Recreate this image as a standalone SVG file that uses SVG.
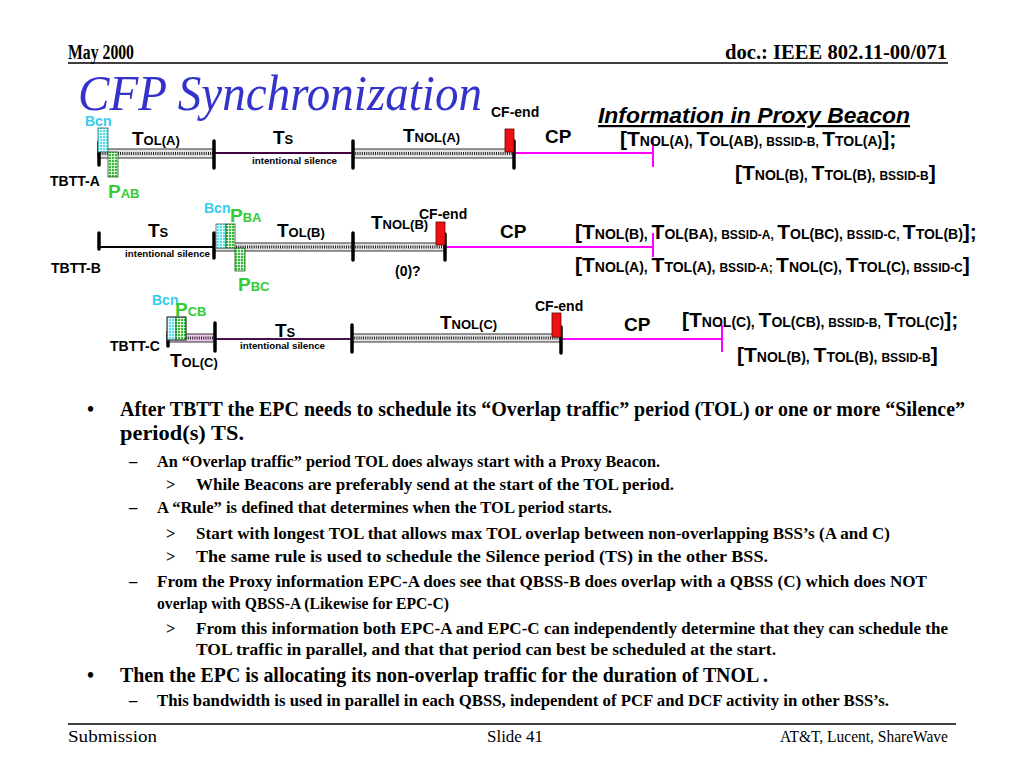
<svg xmlns="http://www.w3.org/2000/svg" width="1024" height="768" viewBox="0 0 1024 768">
<defs>
<style>
.l{font-family:"Liberation Sans",Arial,sans-serif;font-weight:bold;fill:#000}
.b{font-size:19px}.s{font-size:13px}
.B{font-size:21px}.S{font-size:14px}.x{font-size:12px}
.sm{font-size:14px}
.tiny{font-size:9.7px}
.cy{fill:#33ccee}.gr{fill:#33cc33}
.tm{font-family:"Liberation Serif","Times New Roman",serif;font-weight:bold;fill:#000}
.t1{font-size:20px}.t2{font-size:16.5px}
.ft{font-family:"Liberation Serif","Times New Roman",serif;font-size:17px;fill:#000}
.bar{fill:#e4e4e4;stroke:#333;stroke-width:1}
.dots{stroke:#222;stroke-width:3;stroke-dasharray:1 1.2}
.tick{stroke:#000;stroke-width:3.5;stroke-linecap:round}
.mtick{stroke:#ff00ff;stroke-width:2}
.cp{stroke:#ff00ff;stroke-width:2}
.ts{stroke:#400040;stroke-width:2}
.red{fill:#ee1111;stroke:#600;stroke-width:0.8}
.cbox{fill:url(#cyanGrid);stroke:#2a6a70;stroke-width:0.8}
.gbox{fill:url(#greenGrid);stroke:#1a5a1a;stroke-width:0.8}
</style>
<pattern id="cyanGrid" width="3" height="3" patternUnits="userSpaceOnUse"><rect width="3" height="3" fill="#55dde8"/><path d="M0 0.5H3M0.5 0V3" stroke="#ffffff" stroke-width="0.8"/></pattern>
<pattern id="greenGrid" width="3" height="3" patternUnits="userSpaceOnUse"><rect width="3" height="3" fill="#33bb33"/><path d="M0 0.5H3M0.5 0V3" stroke="#ffffff" stroke-width="0.8"/></pattern>
</defs>
<rect width="1024" height="768" fill="#ffffff"/>

<g id="header">
<text class="tm" x="68" y="59" font-size="20" textLength="66" lengthAdjust="spacingAndGlyphs">May 2000</text>
<text class="tm" x="947" y="59" font-size="20" text-anchor="end" textLength="222" lengthAdjust="spacingAndGlyphs">doc.: IEEE 802.11-00/071</text>
<line x1="68" y1="63" x2="948" y2="63" stroke="#000" stroke-width="1.5"/>
<text x="78" y="110" font-family="Liberation Serif,'Times New Roman',serif" font-style="italic" font-size="50" fill="#3333cc" textLength="404" lengthAdjust="spacingAndGlyphs">CFP Synchronization</text>
</g>

<g id="connectors">
<rect class="bar" x="98" y="149" width="116" height="9"/><line class="dots" x1="98" y1="153.5" x2="214" y2="153.5"/>
<line class="ts" x1="214" y1="153" x2="353" y2="153"/>
<rect class="bar" x="353" y="149" width="161" height="9"/><line class="dots" x1="353" y1="153.5" x2="514" y2="153.5"/>
<line class="cp" x1="514" y1="153" x2="653" y2="153"/>
<line class="tick" x1="99" y1="142" x2="99" y2="165"/>
<line class="tick" x1="214" y1="141" x2="214" y2="168"/>
<line class="tick" x1="353" y1="141" x2="353" y2="168"/>
<line class="tick" x1="514" y1="141" x2="514" y2="168"/>
<line class="mtick" x1="653" y1="137" x2="653" y2="167"/>
<line x1="99" y1="247" x2="214" y2="247" stroke="#000" stroke-width="2"/>
<rect class="bar" x="214" y="243" width="139" height="8"/><line class="dots" x1="214" y1="247" x2="353" y2="247"/>
<rect class="bar" x="353" y="243" width="92" height="8"/><line class="dots" x1="353" y1="247" x2="445" y2="247"/>
<line class="cp" x1="445" y1="247" x2="653" y2="247"/>
<line class="tick" x1="99" y1="233" x2="99" y2="249"/>
<line class="tick" x1="214" y1="233" x2="214" y2="258"/>
<line class="tick" x1="353" y1="233" x2="353" y2="260"/>
<line class="tick" x1="445" y1="234" x2="445" y2="260"/>
<line class="mtick" x1="653" y1="233" x2="653" y2="257"/>
<rect class="bar" x="168" y="334" width="47" height="8" style="fill:#eecbee"/><line class="dots" x1="168" y1="338" x2="215" y2="338"/>
<line class="ts" x1="215" y1="339" x2="352" y2="339" style="stroke:#4b1050"/>
<rect class="bar" x="352" y="334" width="209" height="8"/><line class="dots" x1="352" y1="338" x2="561" y2="338"/>
<line class="cp" x1="561" y1="339" x2="722" y2="339"/>
<line class="tick" x1="168" y1="332" x2="168" y2="346"/>
<line class="tick" x1="215" y1="323" x2="215" y2="351"/>
<line class="tick" x1="352" y1="325" x2="352" y2="352"/>
<line class="tick" x1="561" y1="327" x2="561" y2="353"/>
<line class="mtick" x1="722" y1="325" x2="722" y2="352"/>
</g>

<g id="timeline-a">
<rect class="cbox" x="98" y="128" width="10" height="24"/>
<rect class="gbox" x="108" y="152" width="10" height="25"/>
<rect class="red" x="505" y="129" width="9" height="23"/>
<text class="l sm cy" x="85" y="126">Bcn</text>
<text class="l" x="132" y="145"><tspan class="b">T</tspan><tspan class="s">OL(A)</tspan></text>
<text class="l" x="273" y="144"><tspan class="b">T</tspan><tspan class="s">S</tspan></text>
<text class="l tiny" x="252" y="164" textLength="85" lengthAdjust="spacingAndGlyphs">intentional silence</text>
<text class="l" x="403" y="142"><tspan class="b">T</tspan><tspan class="s">NOL(A)</tspan></text>
<text class="l sm" x="491" y="117">CF-end</text>
<text class="l b" x="545" y="143">CP</text>
<text class="l sm" x="50" y="186">TBTT-A</text>
<text class="l gr" x="108" y="198"><tspan class="b">P</tspan><tspan class="s">AB</tspan></text>
</g>

<g id="timeline-b">
<rect class="cbox" x="216" y="224" width="10" height="24"/>
<rect class="gbox" x="226" y="224" width="9" height="24"/>
<rect class="gbox" x="235" y="248" width="10" height="23"/>
<rect class="red" x="436" y="222" width="9" height="23"/>
<text class="l" x="148" y="237"><tspan class="b">T</tspan><tspan class="s">S</tspan></text>
<text class="l tiny" x="125" y="257" textLength="85" lengthAdjust="spacingAndGlyphs">intentional silence</text>
<text class="l sm" x="51" y="273">TBTT-B</text>
<text class="l sm cy" x="204" y="213">Bcn</text>
<text class="l gr" x="230" y="222"><tspan class="b">P</tspan><tspan class="s">BA</tspan></text>
<text class="l gr" x="238" y="291"><tspan class="b">P</tspan><tspan class="s">BC</tspan></text>
<text class="l" x="277" y="237"><tspan class="b">T</tspan><tspan class="s">OL(B)</tspan></text>
<text class="l" x="371" y="229"><tspan class="b">T</tspan><tspan class="s">NOL(B)</tspan></text>
<text class="l sm" x="419" y="219">CF-end</text>
<text class="l b" x="500" y="238">CP</text>
<text class="l sm" x="395" y="276">(0)?</text>
</g>

<g id="timeline-c">
<rect class="cbox" x="167" y="317" width="9" height="23"/>
<rect class="gbox" x="176" y="317" width="10" height="23"/>
<rect x="167" y="317" width="19" height="23" fill="none" stroke="#333" stroke-width="0.8"/>
<rect class="red" x="552" y="313" width="9" height="24"/>
<text class="l sm" x="110" y="351">TBTT-C</text>
<text class="l" x="170" y="367"><tspan class="b">T</tspan><tspan class="s">OL(C)</tspan></text>
<text class="l sm cy" x="152" y="305">Bcn</text>
<text class="l gr" x="175" y="316"><tspan class="b">P</tspan><tspan class="s">CB</tspan></text>
<text class="l" x="275" y="337"><tspan class="b">T</tspan><tspan class="s">S</tspan></text>
<text class="l tiny" x="240" y="349" textLength="85" lengthAdjust="spacingAndGlyphs">intentional silence</text>
<text class="l" x="440" y="329"><tspan class="b">T</tspan><tspan class="s">NOL(C)</tspan></text>
<text class="l sm" x="535" y="311">CF-end</text>
<text class="l b" x="624" y="331">CP</text>
</g>

<g id="proxy-info">
<text x="598" y="123" font-family="Liberation Sans,Arial,sans-serif" font-weight="bold" font-style="italic" font-size="22" text-decoration="underline" fill="#000" textLength="312" lengthAdjust="spacingAndGlyphs">Information in Proxy Beacon</text>
<text class="l" x="620" y="146"><tspan class="B">[T</tspan><tspan class="S">NOL(A), </tspan><tspan class="B">T</tspan><tspan class="S">OL(AB), </tspan><tspan class="x">BSSID-B, </tspan><tspan class="B">T</tspan><tspan class="S">TOL(A)</tspan><tspan class="B">];</tspan></text>
<text class="l" x="735" y="180"><tspan class="B">[T</tspan><tspan class="S">NOL(B), </tspan><tspan class="B">T</tspan><tspan class="S">TOL(B), </tspan><tspan class="x">BSSID-B</tspan><tspan class="B">]</tspan></text>
<text class="l" x="575" y="239"><tspan class="B">[T</tspan><tspan class="S">NOL(B), </tspan><tspan class="B">T</tspan><tspan class="S">OL(BA), </tspan><tspan class="x">BSSID-A, </tspan><tspan class="B">T</tspan><tspan class="S">OL(BC), </tspan><tspan class="x">BSSID-C, </tspan><tspan class="B">T</tspan><tspan class="S">TOL(B)</tspan><tspan class="B">];</tspan></text>
<text class="l" x="575" y="272"><tspan class="B">[T</tspan><tspan class="S">NOL(A), </tspan><tspan class="B">T</tspan><tspan class="S">TOL(A), </tspan><tspan class="x">BSSID-A; </tspan><tspan class="B">T</tspan><tspan class="S">NOL(C), </tspan><tspan class="B">T</tspan><tspan class="S">TOL(C), </tspan><tspan class="x">BSSID-C</tspan><tspan class="B">]</tspan></text>
<text class="l" x="682" y="327"><tspan class="B">[T</tspan><tspan class="S">NOL(C), </tspan><tspan class="B">T</tspan><tspan class="S">OL(CB), </tspan><tspan class="x">BSSID-B, </tspan><tspan class="B">T</tspan><tspan class="S">TOL(C)</tspan><tspan class="B">];</tspan></text>
<text class="l" x="737" y="362"><tspan class="B">[T</tspan><tspan class="S">NOL(B), </tspan><tspan class="B">T</tspan><tspan class="S">TOL(B), </tspan><tspan class="x">BSSID-B</tspan><tspan class="B">]</tspan></text>
</g>

<g id="bullets">
<text class="tm t1" x="87" y="416">•</text>
<text class="tm t1" x="120" y="416" textLength="845" lengthAdjust="spacingAndGlyphs">After TBTT the EPC needs to schedule its “Overlap traffic” period (TOL) or one or more “Silence”</text>
<text class="tm t1" x="120" y="440" textLength="124" lengthAdjust="spacingAndGlyphs">period(s) TS.</text>
<text class="tm t2" x="129" y="467">–</text>
<text class="tm t2" x="157" y="467" textLength="503" lengthAdjust="spacingAndGlyphs">An “Overlap traffic” period TOL does always start with a Proxy Beacon.</text>
<text class="tm t2" x="166" y="490">&gt;</text>
<text class="tm t2" x="196" y="490" textLength="478" lengthAdjust="spacingAndGlyphs">While Beacons are preferably send at the start of the TOL period.</text>
<text class="tm t2" x="129" y="513">–</text>
<text class="tm t2" x="157" y="513" textLength="455" lengthAdjust="spacingAndGlyphs">A “Rule” is defined that determines when the TOL period starts.</text>
<text class="tm t2" x="166" y="539">&gt;</text>
<text class="tm t2" x="196" y="539" textLength="694" lengthAdjust="spacingAndGlyphs">Start with longest TOL that allows max TOL overlap between non-overlapping BSS’s (A and C)</text>
<text class="tm t2" x="166" y="562">&gt;</text>
<text class="tm t2" x="196" y="562" textLength="572" lengthAdjust="spacingAndGlyphs">The same rule is used to schedule the Silence period (TS) in  the other BSS.</text>
<text class="tm t2" x="129" y="587">–</text>
<text class="tm t2" x="157" y="587" textLength="770" lengthAdjust="spacingAndGlyphs">From the Proxy information EPC-A does see that QBSS-B does overlap with a QBSS (C) which does NOT</text>
<text class="tm t2" x="157" y="609" textLength="292" lengthAdjust="spacingAndGlyphs">overlap with QBSS-A (Likewise for EPC-C)</text>
<text class="tm t2" x="166" y="634">&gt;</text>
<text class="tm t2" x="196" y="634" textLength="752" lengthAdjust="spacingAndGlyphs">From this information both EPC-A and EPC-C can independently determine that they can schedule the</text>
<text class="tm t2" x="196" y="655" textLength="580" lengthAdjust="spacingAndGlyphs">TOL traffic in parallel, and that that period can best be scheduled at the start.</text>
<text class="tm t1" x="87" y="682">•</text>
<text class="tm t1" x="120" y="682" textLength="648" lengthAdjust="spacingAndGlyphs">Then the EPC is allocating its non-overlap traffic for the duration of TNOL .</text>
<text class="tm t2" x="129" y="706">–</text>
<text class="tm t2" x="157" y="706" textLength="732" lengthAdjust="spacingAndGlyphs">This bandwidth is used in parallel in each QBSS, independent of PCF and DCF activity in other BSS’s.</text>
</g>

<g id="footer">
<line x1="68" y1="724" x2="956" y2="724" stroke="#000" stroke-width="1.5"/>
<text class="ft" x="68" y="742" textLength="89" lengthAdjust="spacingAndGlyphs">Submission</text>
<text class="ft" x="487" y="742" textLength="56" lengthAdjust="spacingAndGlyphs">Slide 41</text>
<text class="ft" x="948" y="742" text-anchor="end" textLength="168" lengthAdjust="spacingAndGlyphs">AT&amp;T, Lucent, ShareWave</text>
</g>
</svg>
